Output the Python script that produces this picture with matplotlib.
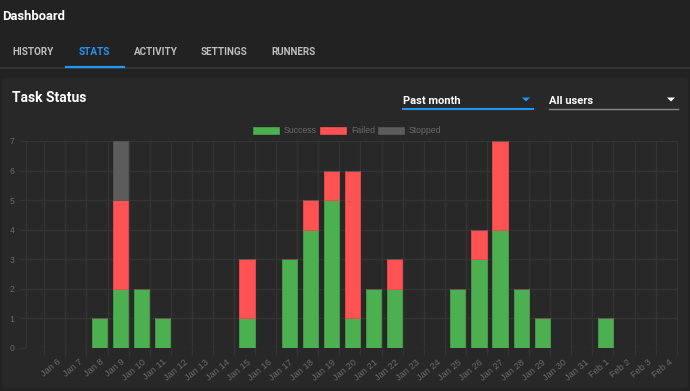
import matplotlib
matplotlib.use("Agg")
import matplotlib.pyplot as plt
from matplotlib.patches import FancyBboxPatch, Rectangle, Polygon
from matplotlib.lines import Line2D
import numpy as np

# ---------------- data ----------------
dates = ["Jan 6", "Jan 7", "Jan 8", "Jan 9", "Jan 10", "Jan 11", "Jan 12", "Jan 13",
         "Jan 14", "Jan 15", "Jan 16", "Jan 17", "Jan 18", "Jan 19", "Jan 20", "Jan 21",
         "Jan 22", "Jan 23", "Jan 24", "Jan 25", "Jan 26", "Jan 27", "Jan 28", "Jan 29",
         "Jan 30", "Jan 31", "Feb 1", "Feb 2", "Feb 3", "Feb 4"]
success = [0, 0, 1, 2, 2, 1, 0, 0, 0, 1, 0, 3, 4, 5, 1, 2, 2, 0, 0, 2, 3, 4, 2, 1, 0, 0, 1, 0, 0, 0]
failed  = [0, 0, 0, 3, 0, 0, 0, 0, 0, 2, 0, 0, 1, 1, 5, 0, 1, 0, 0, 0, 1, 3, 0, 0, 0, 0, 0, 0, 0, 0]
stopped = [0, 0, 0, 2, 0, 0, 0, 0, 0, 0, 0, 0, 0, 0, 0, 0, 0, 0, 0, 0, 0, 0, 0, 0, 0, 0, 0, 0, 0, 0]
series_names = ["Success", "Failed", "Stopped"]
y_ticks = [0, 1, 2, 3, 4, 5, 6, 7]
tabs = ["HISTORY", "STATS", "ACTIVITY", "SETTINGS", "RUNNERS"]

# ---------------- style ----------------
W, H = 690, 391
PAGE_BG = "#222222"
CARD_BG = "#282828"
GRID = "#343434"
TICK_TXT = "#6a6a6a"
COLORS = ["#4caf50", "#ff5252", "#5c5c5c"]
EDGES = ["#43a047", "#f04848", "#555555"]
UI_FONT = ["Roboto", "DejaVu Sans"]
CH_FONT = ["Liberation Sans", "DejaVu Sans"]

fig = plt.figure(figsize=(W / 100, H / 100), dpi=100)
fig.patch.set_facecolor(PAGE_BG)

def fx(x):
    return x / W

def fy(y):
    return 1 - y / H

# card
card = FancyBboxPatch((fx(2), fy(388)), fx(686), (388 - 78) / H,
                      boxstyle="round,pad=0,rounding_size=0.006",
                      transform=fig.transFigure, facecolor=CARD_BG, edgecolor="none", zorder=-5)
fig.patches.append(card)

# header
fig.text(fx(2), fy(16), "Dashboard", color="white", fontsize=9.4, fontweight="bold",
         family=UI_FONT, ha="left", va="center")

tab_x = [12, 79, 134, 201, 271]
for name, x in zip(tabs, tab_x):
    fig.text(fx(x), fy(52), name, color="#2196f3" if name == "STATS" else "#bdbdbd",
             fontsize=7.1, fontweight="bold", family=UI_FONT, ha="left", va="center")
fig.lines.append(Line2D([0, 1], [fy(67.5), fy(67.5)], transform=fig.transFigure,
                        color="#3a3a3a", lw=1.2, zorder=-4))
fig.lines.append(Line2D([fx(66), fx(124)], [fy(67), fy(67)], transform=fig.transFigure,
                        color="#2196f3", lw=1.6, zorder=-3))

# card title
fig.text(fx(12), fy(98.5), "Task Status", color="white", fontsize=10, fontweight="bold",
         family=UI_FONT, ha="left", va="center")

# dropdowns
fig.text(fx(403), fy(101), "Past month", color="white", fontsize=8, fontweight="bold",
         family=UI_FONT, ha="left", va="center")
fig.lines.append(Line2D([fx(403), fx(533)], [fy(108.5), fy(108.5)], transform=fig.transFigure,
                        color="#2196f3", lw=1.5))
fig.patches.append(Polygon([[fx(522), fy(97.5)], [fx(530), fy(97.5)], [fx(526), fy(101.5)]],
                           closed=True, transform=fig.transFigure, facecolor="#2196f3",
                           edgecolor="none"))
fig.text(fx(549), fy(101), "All users", color="white", fontsize=8, fontweight="bold",
         family=UI_FONT, ha="left", va="center")
fig.lines.append(Line2D([fx(549), fx(678)], [fy(108.5), fy(108.5)], transform=fig.transFigure,
                        color="#8a8a8a", lw=1.0))
fig.patches.append(Polygon([[fx(667), fy(97.5)], [fx(675), fy(97.5)], [fx(671), fy(101.5)]],
                           closed=True, transform=fig.transFigure, facecolor="white",
                           edgecolor="none"))

# legend (manual, figure coords)
leg_x = [253, 320, 378]
for name, x, c, ec in zip(series_names, leg_x, COLORS, EDGES):
    fig.patches.append(Rectangle((fx(x), fy(134)), fx(26), 7 / H, transform=fig.transFigure,
                                 facecolor=c, edgecolor=ec, lw=0.6))
    fig.text(fx(x + 31), fy(130.5), name, color="#6a6a6a", fontsize=6.3, family=CH_FONT,
             ha="left", va="center")

# ---------------- chart ----------------
left_px, right_px, top_px, bot_px = 25.7, 678.0, 141.0, 347.7
ax = fig.add_axes([fx(left_px), fy(bot_px), (right_px - left_px) / W, (bot_px - top_px) / H])
ax.set_facecolor("none")
n = len(dates)
xs = np.arange(n) + 0.12
bottom = np.zeros(n)
for vals, c, ec in zip([success, failed, stopped], COLORS, EDGES):
    v = np.array(vals, dtype=float)
    ax.bar(xs, v, width=0.72, bottom=bottom, color=c, edgecolor=ec, linewidth=0.6, zorder=3)
    bottom += v

ax.set_xlim(-1.38, n - 0.44)
ax.set_ylim(0, 7)
for s in ax.spines.values():
    s.set_visible(False)
ax.axvline(-1.38, color=GRID, lw=1.0, zorder=1)

ax.set_yticks(y_ticks)
ax.set_yticklabels([str(t) for t in y_ticks], fontsize=6.3, color=TICK_TXT, family=CH_FONT)
ax.tick_params(axis="y", length=5, color=GRID, width=1.0, pad=3)
ax.grid(axis="y", color=GRID, lw=1.0, zorder=1)

ax.set_xticks(xs)
ax.set_xticklabels(dates, rotation=40, ha="right", va="top", rotation_mode="anchor",
                   fontsize=6.7, color=TICK_TXT, family=CH_FONT)
ax.tick_params(axis="x", which="major", length=0, pad=7)
ax.set_xticks(np.arange(n + 1) - 0.5, minor=True)
ax.tick_params(axis="x", which="minor", length=5, color=GRID, width=1.0)
ax.grid(axis="x", which="minor", color=GRID, lw=1.0, zorder=1)
ax.grid(axis="x", which="major", visible=False)
ax.set_axisbelow(True)

fig.savefig("out.png", dpi=100, facecolor=PAGE_BG)
